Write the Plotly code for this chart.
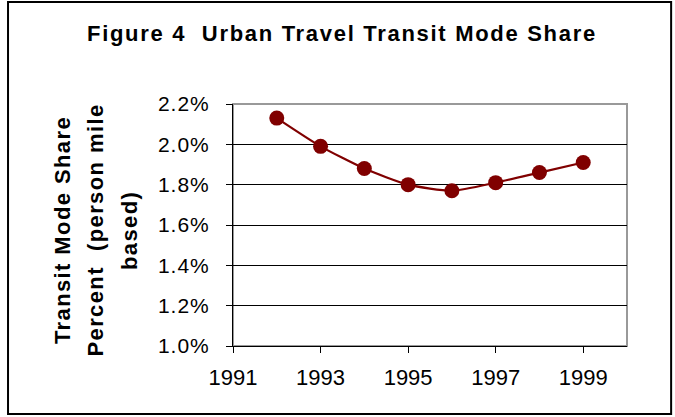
import plotly.graph_objects as go

# data
years = [1992, 1993, 1994, 1995, 1996, 1997, 1998, 1999]
share_pct = [2.13, 1.99, 1.88, 1.80, 1.77, 1.81, 1.86, 1.91]

x_ticks = [1991, 1993, 1995, 1997, 1999]
y_ticks = [1.0, 1.2, 1.4, 1.6, 1.8, 2.0, 2.2]
y_labels = ['1.0%', '1.2%', '1.4%', '1.6%', '1.8%', '2.0%', '2.2%']

title = 'Figure 4  Urban Travel Transit Mode Share'
y_title_lines = ['Transit Mode Share', 'Percent  (person mile', 'based)']

dark_red = '#800000'
font = 'Liberation Sans, Arial, sans-serif'


def spaced(txt, px):
    return f'<span style="letter-spacing:{px}px">{txt}</span>'


fig = go.Figure()
fig.add_trace(go.Scatter(
    x=years, y=share_pct, mode='lines+markers',
    line={'color': dark_red, 'width': 2.2, 'shape': 'spline', 'smoothing': 0.6},
    marker={'color': dark_red, 'size': 15},
    showlegend=False, hoverinfo='x+y'))

fig.update_xaxes(
    range=[1991, 2000], tickvals=x_ticks, ticks='outside', ticklen=6, ticklabelstandoff=6,
    tickcolor='#000', showline=True, linecolor='#000', linewidth=1,
    showgrid=False, zeroline=False, tickfont={'size': 22, 'color': '#000'})
fig.update_yaxes(
    range=[1.0, 2.2], tickvals=y_ticks, ticktext=[spaced(t, 1) for t in y_labels],
    ticks='outside', ticklen=6, ticklabelstandoff=12, tickcolor='#000', showline=True,
    linecolor='#000', linewidth=1, showgrid=True, gridcolor='#000', gridwidth=1,
    zeroline=False, tickfont={'size': 21, 'color': '#000'})

# plot area border (grey, Excel style) and outer frame
fig.add_shape(type='rect', xref='paper', yref='paper', x0=0, x1=1, y0=0, y1=1,
              line={'color': '#999999', 'width': 2}, layer='below')
fig.add_shape(type='rect', xref='paper', yref='paper', x0=-0.571, x1=1.112, y0=-0.281, y1=1.421,
              line={'color': '#000', 'width': 2})

fig.add_annotation(
    text='<b>' + spaced(title, 1.7) + '</b>', xref='paper', yref='paper', x=0.2766, y=1.29,
    xanchor='center', yanchor='middle', showarrow=False,
    font={'family': font, 'size': 22, 'color': '#000'})

for xp, line in zip([-0.434, -0.349, -0.264], y_title_lines):
    fig.add_annotation(
        text='<b>' + spaced(line, 1.4) + '</b>', xref='paper', yref='paper', x=xp, y=0.479,
        xanchor='center', yanchor='middle', textangle=-90, showarrow=False,
        font={'family': font, 'size': 22, 'color': '#000'})

fig.update_layout(
    font={'family': font, 'color': '#000'},
    width=675, height=417, paper_bgcolor='white', plot_bgcolor='white',
    margin={'l': 233, 'r': 48, 't': 104, 'b': 71, 'pad': 0})

fig.write_html('out.html', config={'displayModeBar': False},
               post_script="document.body.style.margin='0';")
